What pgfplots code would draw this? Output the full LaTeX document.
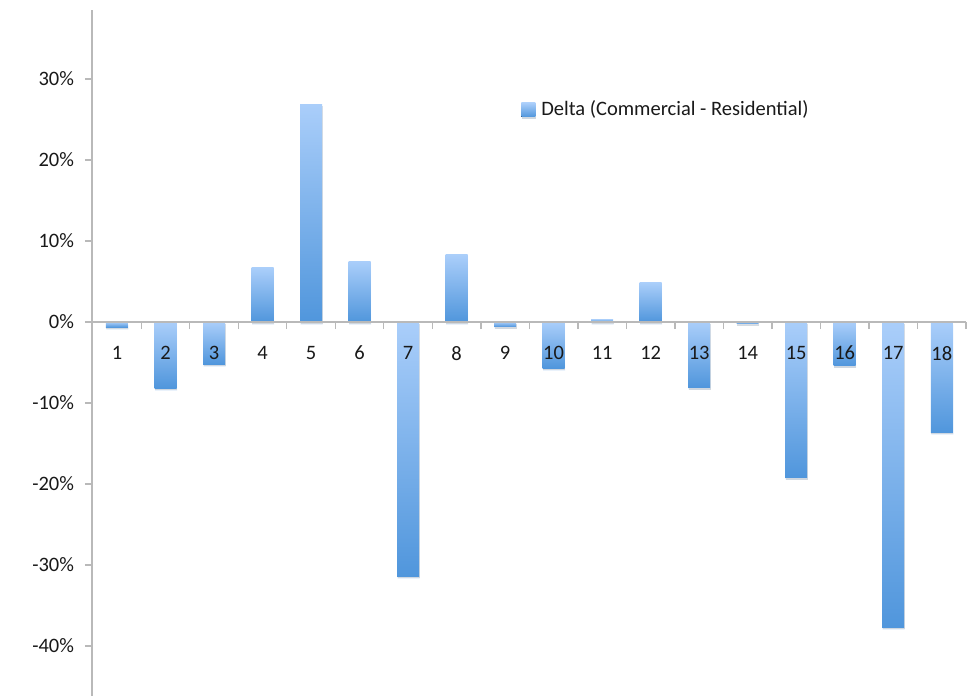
\documentclass[border=0pt]{standalone}
\usepackage{fontspec}
\setmainfont{Carlito}
\usepackage{pgfplots}
\pgfplotsset{compat=1.18}
\usetikzlibrary{shadows}
\definecolor{bartop}{RGB}{170,206,250}
\definecolor{barbot}{RGB}{80,150,220}
\definecolor{axgray}{RGB}{185,185,185}
\definecolor{txt}{RGB}{25,25,25}
\newcommand{\fs}{\fontsize{20.5}{24}\selectfont}
\pgfplotsset{deltabar/.style={ybar, bar width=22pt, draw=none, top color=bartop, bottom color=barbot,
  drop shadow={shadow xshift=0.5pt, shadow yshift=-2pt, opacity=0.12, fill=black}}}
\begin{document}
\fs
\begin{tikzpicture}
\begin{axis}[
  at={(0pt,0pt)}, anchor=south west,
  scale only axis, width=874pt, height=686pt,
  xmin=0.485, xmax=18.5,
  ymin=-46.17, ymax=38.52,
  axis on top,
  axis x line*=middle, axis y line*=left,
  axis line style={draw=axgray, line width=1.3pt},
  major tick length=7pt,
  tick style={draw=axgray, line width=1.3pt},
  /pgf/number format/assume math mode=true,
  ytick={-40,-30,...,30},
  yticklabel={\pgfmathprintnumber[assume math mode=true]{\tick}\%},
  ytick align=outside, ytick pos=left,
  y tick label style={font=\fs, text=txt, xshift=-4pt},
  xtick={0.5,1.5,...,18.5}, xticklabels={},
  xtick align=outside,
  extra x ticks={1,...,18},
  extra x tick labels={1,2,3,4,5,6,7,8,9,10,11,12,13,14,15,16,17,18},
  extra x tick style={major tick length=0pt, tick label style={font=\fs, text=txt, yshift=-17pt}},
  legend style={at={(rel axis cs:0.491,0.8586)}, anchor=west, draw=none, fill=none,
    font=\fs, text=txt, inner sep=0pt, yshift=-3pt},
  legend image code/.code={\fill[top color=bartop,bottom color=barbot] (0pt,-7pt) rectangle (14pt,7pt);},
  legend cell align=left,
  clip=false,
]
\addplot[deltabar] coordinates {(1,-0.65)};
\addlegendentry{\hspace{4pt}Delta (Commercial - Residential)}
\addplot[deltabar, forget plot] coordinates {(2,-8.15)};
\addplot[deltabar, forget plot] coordinates {(3,-5.2)};
\addplot[deltabar, forget plot] coordinates {(4,6.7)};
\addplot[deltabar, forget plot] coordinates {(5,26.9)};
\addplot[deltabar, forget plot] coordinates {(6,7.5)};
\addplot[deltabar, forget plot] coordinates {(7,-31.4)};
\addplot[deltabar, forget plot] coordinates {(8,8.3)};
\addplot[deltabar, forget plot] coordinates {(9,-0.58)};
\addplot[deltabar, forget plot] coordinates {(10,-5.7)};
\addplot[deltabar, forget plot] coordinates {(11,0.37)};
\addplot[deltabar, forget plot] coordinates {(12,4.85)};
\addplot[deltabar, forget plot] coordinates {(13,-8.1)};
\addplot[deltabar, forget plot] coordinates {(14,-0.2)};
\addplot[deltabar, forget plot] coordinates {(15,-19.2)};
\addplot[deltabar, forget plot] coordinates {(16,-5.4)};
\addplot[deltabar, forget plot] coordinates {(17,-37.7)};
\addplot[deltabar, forget plot] coordinates {(18,-13.6)};
\end{axis}
\pgfresetboundingbox
\useasboundingbox (-92pt,0pt) rectangle (884pt,696pt);
\end{tikzpicture}
\end{document}
